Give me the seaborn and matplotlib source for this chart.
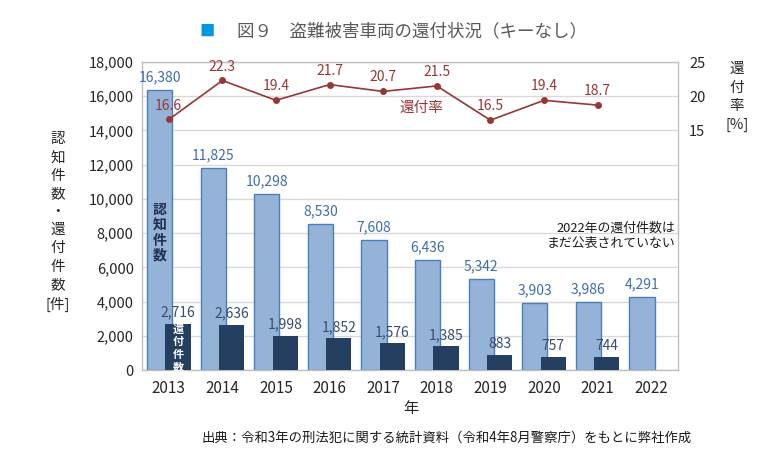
import matplotlib
matplotlib.use("Agg")
import matplotlib.pyplot as plt
import seaborn as sns
import pandas as pd
import numpy as np
from matplotlib.ticker import FuncFormatter, FixedLocator

years = ["2013", "2014", "2015", "2016", "2017", "2018", "2019", "2020", "2021", "2022"]
recognized = [16380, 11825, 10298, 8530, 7608, 6436, 5342, 3903, 3986, 4291]
returned_years = ["2013", "2014", "2015", "2016", "2017", "2018", "2019", "2020", "2021"]
returned = [2716, 2636, 1998, 1852, 1576, 1385, 883, 757, 744]
rate = [16.6, 22.3, 19.4, 21.7, 20.7, 21.5, 16.5, 19.4, 18.7]
left_ticks = [0, 2000, 4000, 6000, 8000, 10000, 12000, 14000, 16000, 18000]
right_ticks = [15, 20, 25]

sns.set_theme(style="white")
plt.rcParams['font.family'] = ['Noto Sans CJK JP', 'DejaVu Sans']

LIGHT = "#95B3D7"
LIGHT_EDGE = "#4A7EBB"
DARK = "#243F60"
RED = "#953735"
LBL_BLUE = "#3E6DAA"
LBL_DARK = "#3A4C6A"
GRID = "#D9D9D9"

fig = plt.figure(figsize=(7.71, 4.70), dpi=100)
ax = fig.add_axes([142/771, 1-370/470, (678-142)/771, (370-62)/470])

df1 = pd.DataFrame({"year": years, "count": recognized})
df2 = pd.DataFrame({"year": returned_years, "count": returned})

W = 0.47
OFF = 0.17
sns.barplot(data=df1, x="year", y="count", order=years, color=LIGHT, ax=ax,
            width=W, saturation=1, edgecolor=LIGHT_EDGE, linewidth=1.0)
n1 = len(ax.patches)
sns.barplot(data=df2, x="year", y="count", order=years, color=DARK, ax=ax,
            width=W, saturation=1, linewidth=0)
for i, p in enumerate(ax.patches):
    if i < n1:
        p.set_x(p.get_x() - OFF)
        p.set_zorder(2)
    else:
        p.set_x(p.get_x() + OFF)
        p.set_zorder(3)

ax.set_ylim(0, 18000)
ax.set_xlim(-0.5, len(years) - 0.5)
ax.yaxis.set_major_locator(FixedLocator(left_ticks))
ax.yaxis.set_major_formatter(FuncFormatter(lambda v, _: f"{int(v):,}"))
ax.grid(axis="y", color=GRID, linewidth=1.0, zorder=0)
ax.set_axisbelow(True)
for s in ax.spines.values():
    s.set_color("#BFBFBF")
    s.set_linewidth(1.0)
ax.tick_params(axis="y", labelsize=10.5, colors="#262626", length=0, pad=6)
ax.tick_params(axis="x", labelsize=11, colors="#262626", length=0, pad=7)
ax.set_xlabel("")
ax.set_ylabel("")

# labels for bars
for i, v in enumerate(recognized):
    ax.annotate(f"{v:,}", (i - OFF, v), xytext=(0, 4), textcoords="offset points",
                ha="center", va="bottom", fontsize=10, color=LBL_BLUE, zorder=5)
for i, v in enumerate(returned):
    ax.annotate(f"{v:,}", (i + OFF, v), xytext=(0, 3), textcoords="offset points",
                ha="center", va="bottom", fontsize=10, color=LBL_DARK, zorder=5)

# text inside bars
ax.text(0 - OFF, 8000, "認\n知\n件\n数", ha="center", va="center", fontsize=10,
        color="#1F2F4F", fontweight="bold", linespacing=1.1, zorder=6)
ax.text(0 + OFF, 1290, "還\n付\n件\n数", ha="center", va="center", fontsize=8,
        color="white", fontweight="bold", linespacing=0.95, zorder=6)

# right axis: rate line
ax2 = ax.twinx()
ax2.set_position(ax.get_position())
dfr = pd.DataFrame({"x": np.arange(len(rate)), "rate": rate})
sns.lineplot(data=dfr, x="x", y="rate", ax=ax2, color=RED, linewidth=1.2,
             marker="o", markersize=5, markeredgewidth=0, zorder=4)
ax2.set_ylim(-20, 25)
ax2.yaxis.set_major_locator(FixedLocator(right_ticks))
ax2.tick_params(axis="y", labelsize=10.5, colors="#262626", length=0, pad=8)
ax2.set_ylabel("")
ax2.set_xlabel("")
for s in ax2.spines.values():
    s.set_visible(False)
for i, v in enumerate(rate):
    ax2.annotate(f"{v}", (i, v), xytext=(0, 5), textcoords="offset points",
                 ha="center", va="bottom", fontsize=10, color=RED)
ax2.text(4.72, 18.3, "還付率", ha="center", va="center", fontsize=10.5, color=RED)

# annotation
ax.text(9.45, 7850, "2022年の還付件数は\nまだ公表されていない", ha="right", va="center",
        fontsize=9.3, color="#1a1a1a", linespacing=1.25)

# axis titles
fig.text(58/771, 1-222/470, "認\n知\n件\n数\n・\n還\n付\n件\n数\n[件]", ha="center", va="center",
         fontsize=10.5, color="#262626", linespacing=1.38)
fig.text(737/771, 1-97/470, "還\n付\n率\n[%]", ha="center", va="center",
         fontsize=10.5, color="#262626", linespacing=1.4)
fig.text(411/771, 1-409/470, "年", ha="center", va="center", fontsize=11, color="#262626")
fig.text(447/771, 1-438/470, "出典：令和3年の刑法犯に関する統計資料（令和4年8月警察庁）をもとに弊社作成",
         ha="center", va="center", fontsize=9.6, color="#1a1a1a")

# title
fig.text(207/771, 1-31/470, "■", ha="center", va="center", fontsize=11, color="#0096E0")
fig.text(237/771, 1-31/470, "図９　盗難被害車両の還付状況（キーなし）", ha="left", va="center",
         fontsize=12.6, color="#595959")

fig.savefig("out.png", dpi=100)
